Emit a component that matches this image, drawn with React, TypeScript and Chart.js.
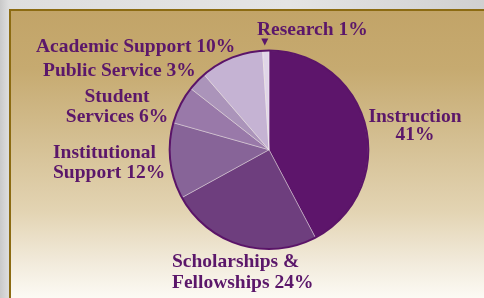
import React, { useEffect, useRef } from "react";
import { Chart, registerables } from "chart.js";

Chart.register(...registerables);

const categories = [
  "Instruction",
  "Scholarships & Fellowships",
  "Institutional Support",
  "Student Services",
  "Public Service",
  "Academic Support",
  "Research",
];
const percentages = [41, 24, 12, 6, 3, 10, 1];
const sliceColors = ["#5d156b", "#6e3e7e", "#876498", "#9979a9", "#ab94ba", "#c5b3d3", "#e0d5e8"];

// label text lines (from categories + percentages)
const labelLines: string[][] = [
  ["Instruction", "41%"],
  ["Scholarships &", "Fellowships 24%"],
  ["Institutional", "Support 12%"],
  ["Student", "Services 6%"],
  ["Public Service 3%"],
  ["Academic Support 10%"],
  ["Research 1%"],
];

// layout of labels relative to the pie centre (style, not data)
const labelLayout = [
  { align: "center", dx: 146, dy: -28, lh: 18 },
  { align: "left", dx: -97, dy: 117, lh: 21 },
  { align: "left", dx: -216, dy: 8, lh: 20 },
  { align: "center", dx: -152, dy: -48, lh: 20.5 },
  { align: "left", dx: -226, dy: -74, lh: 20 },
  { align: "left", dx: -233, dy: -98, lh: 20 },
  { align: "left", dx: -12, dy: -115, lh: 20 },
];

const TEXT_COLOR = "#5b176a";

const labelPlugin = {
  id: "pieLabels",
  afterDatasetsDraw(chart: any) {
    const meta = chart.getDatasetMeta(0);
    const arc0 = meta.data[0];
    if (!arc0) return;
    const cx = arc0.x;
    const cy = arc0.y;
    const r = arc0.outerRadius;
    const ctx = chart.ctx;
    ctx.save();
    // outer rim
    ctx.beginPath();
    ctx.arc(cx, cy, r, 0, Math.PI * 2);
    ctx.lineWidth = 2;
    ctx.strokeStyle = "#5a1468";
    ctx.stroke();

    ctx.fillStyle = TEXT_COLOR;
    ctx.font = "bold 19.5px 'Liberation Serif', 'Times New Roman', serif";
    ctx.textBaseline = "alphabetic";
    labelLines.forEach((lines, i) => {
      const l = labelLayout[i];
      ctx.textAlign = l.align;
      lines.forEach((t, j) => {
        ctx.fillText(t, cx + l.dx, cy + l.dy + j * l.lh);
      });
    });
    // arrow pointing at research slice
    const research = meta.data[6];
    const mid = (research.startAngle + research.endAngle) / 2;
    const ax = cx + Math.cos(mid) * r - 1;
    const tipY = cy - r - 5;
    ctx.beginPath();
    ctx.moveTo(ax - 3.5, tipY - 7);
    ctx.lineTo(ax + 3.5, tipY - 7);
    ctx.lineTo(ax, tipY);
    ctx.closePath();
    ctx.fill();
    ctx.restore();
  },
};

export default function App() {
  const ref = useRef<HTMLCanvasElement>(null);
  useEffect(() => {
    if (!ref.current) return;
    const chart = new Chart(ref.current, {
      type: "pie",
      data: {
        labels: categories,
        datasets: [
          {
            data: percentages,
            backgroundColor: sliceColors,
            borderColor: "rgba(255,255,255,0.45)",
            borderWidth: 0.8,
            hoverBorderWidth: 0.8,
          },
        ],
      },
      options: {
        animation: false,
        responsive: false,
        maintainAspectRatio: false,
        layout: { padding: { left: 169, right: 115, top: 50, bottom: 48.5 } },
        plugins: { legend: { display: false }, tooltip: { enabled: false } },
      },
      plugins: [labelPlugin],
    });
    return () => chart.destroy();
  }, []);

  return (
    <div
      style={{
        position: "fixed",
        left: 0,
        top: 0,
        width: 484,
        height: 298,
        overflow: "hidden",
        background: "linear-gradient(90deg, #c9c9c9 0px, #dedede 9px, #e4e4e4 60%, #d0d0d0 100%)",
      }}
    >
      <div
        style={{
          position: "absolute",
          left: 9,
          top: 9,
          width: 475,
          height: 289,
          boxSizing: "border-box",
          borderTop: "2px solid #8c6b12",
          borderLeft: "2px solid #8c6b12",
          background:
            "linear-gradient(180deg, #c2a468 0%, #c6aa70 20%, #d4bf92 45%, #e3d4b3 70%, #f2ebdc 88%, #fcfaf4 100%)",
        }}
      />
      <canvas ref={ref} width={484} height={298} style={{ position: "absolute", left: 0, top: 0 }} />
    </div>
  );
}
